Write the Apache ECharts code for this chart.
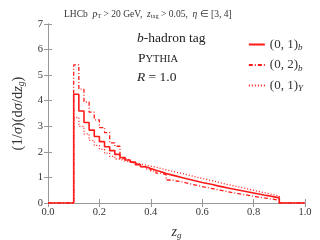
<!DOCTYPE html>
<html><head><meta charset="utf-8">
<script src="https://cdn.jsdelivr.net/npm/echarts@6/dist/echarts.min.js"></script>
<style>html,body{margin:0;padding:0;background:#fff}#c{width:320px;height:240px}</style>
</head><body><div id="c"></div>
<script>
// bin left edges (z_g), last entry is the right edge of the final bin
const binEdges = [0.10,0.12,0.14,0.16,0.18,0.20,0.22,0.24,0.26,0.28,0.30,0.32,0.34,0.36,0.38,0.40,0.42,0.44,0.46,0.48,0.50,0.52,0.54,0.56,0.58,0.60,0.62,0.64,0.66,0.68,0.70,0.72,0.74,0.76,0.78,0.80,0.82,0.84,0.86,0.88,0.90];
const series01b = [4.25,3.6,3.15,2.85,2.6,2.4,2.2,2.05,1.9,1.78,1.68,1.6,1.5,1.42,1.35,1.28,1.22,1.15,1.1,1.05,1.0,0.95,0.9,0.85,0.8,0.76,0.72,0.67,0.63,0.59,0.55,0.51,0.47,0.43,0.39,0.35,0.31,0.28,0.24,0.2];
const series02b = [5.4,4.45,3.95,3.55,3.25,2.95,2.75,2.35,2.22,1.74,1.68,1.6,1.52,1.42,1.33,1.25,1.17,1.1,0.9,0.86,0.83,0.78,0.73,0.69,0.64,0.6,0.56,0.52,0.48,0.44,0.4,0.37,0.33,0.3,0.26,0.23,0.2,0.17,0.14,0.11];
const series01U = [3.35,3.0,2.7,2.45,2.25,2.1,1.95,1.82,1.72,1.65,1.6,1.56,1.52,1.48,1.44,1.4,1.35,1.3,1.25,1.2,1.16,1.11,1.06,1.01,0.96,0.91,0.87,0.82,0.77,0.72,0.68,0.63,0.59,0.54,0.5,0.45,0.41,0.36,0.32,0.27];
const xTicks = ['0.0','0.2','0.4','0.6','0.8','1.0'];
const yTicks = ['0','1','2','3','4','5','6','7'];
const names = ['(0,1)b','(0,2)b','(0,1)Y'];

function histData(vals){
  const d = [[0,0]];
  for (let i=0;i<vals.length;i++) d.push([binEdges[i], vals[i]]);
  d.push([binEdges[binEdges.length-1], 0]);
  d.push([1.0, 0]);
  return d;
}
const FF = 'Liberation Serif';
const red = '#ff1a1a';
const gray = '#999999';
const txt = '#333';
const chart = echarts.init(document.getElementById('c'), null, {renderer:'canvas'});
const axCommon = {
  min:0, axisLine:{show:true,lineStyle:{color:gray,width:1}},
  axisTick:{show:true,inside:true,length:4,lineStyle:{color:gray}},
  splitLine:{show:false}
};
chart.setOption({
  animation:false,
  grid:{left:48,right:15,top:24,bottom:37,outerBoundsMode:'none',containLabel:false},
  title:{text:'LHCb  {i|p}{s|T} > 20 GeV,  {i|z}{s|tag} > 0.05,  {i|η} ∈ [3, 4]',left:59,top:4,
    textStyle:{fontFamily:FF,fontSize:9.5,fontWeight:'normal',color:txt,
      rich:{i:{fontFamily:FF,fontStyle:'italic',fontSize:9.5,color:txt},s:{fontFamily:FF,fontSize:6.5,color:txt,verticalAlign:'bottom',padding:[4,0,0,0]}}}},
  xAxis:[
    Object.assign({},axCommon,{type:'value',max:1,interval:0.2,position:'bottom',
      axisLabel:{color:txt,fontFamily:FF,fontSize:10.5,margin:4,formatter:(v)=>xTicks[Math.round(v/0.2)]},
      name:'{i|z}{s|g}',nameLocation:'middle',nameGap:21,
      nameTextStyle:{rich:{i:{fontFamily:FF,fontStyle:'italic',fontSize:14,color:txt},s:{fontFamily:FF,fontStyle:'italic',fontSize:9,color:txt,padding:[7,0,0,0]}}}}),
    Object.assign({},axCommon,{type:'value',max:1,interval:0.2,position:'top',axisLabel:{show:false}})
  ],
  yAxis:[
    Object.assign({},axCommon,{type:'value',max:7,interval:1,position:'left',
      axisLabel:{color:txt,fontFamily:FF,fontSize:10.5,margin:5,formatter:(v)=>yTicks[v]},
      name:'(1/{i|σ})(d{i|σ}/d{i|z}{s|g})',nameLocation:'middle',nameGap:21,nameRotate:90,
      nameTextStyle:{fontFamily:FF,fontSize:14.5,color:txt,rich:{i:{fontFamily:FF,fontStyle:'italic',fontSize:14.5,color:txt},s:{fontFamily:FF,fontStyle:'italic',fontSize:9.5,color:txt,padding:[7,0,0,0]}}}}),
    Object.assign({},axCommon,{type:'value',max:7,interval:1,position:'right',axisLabel:{show:false}})
  ],
  legend:{orient:'vertical',right:12,top:33,itemWidth:16,itemHeight:8,itemGap:6,
    itemStyle:{opacity:0},
    data:names.map(n=>({name:n})),
    formatter:(n)=>{
      if(n==='(0,1)b') return '(0, 1){s|b}';
      if(n==='(0,2)b') return '(0, 2){s|b}';
      return '(0, 1){s|Υ}';
    },
    textStyle:{fontFamily:FF,fontSize:13,color:txt,rich:{s:{fontFamily:FF,fontStyle:'italic',fontSize:9,color:txt,padding:[7,0,0,0]}}}},
  graphic:[
    {type:'text',left:137,top:31,style:{text:'{i|b}-hadron tag',font:'13.5px "Liberation Serif"',fill:'#222',rich:{i:{fontFamily:FF,fontStyle:'italic',fontSize:13.5,fill:'#222'}}}},
    {type:'text',left:138,top:51,style:{text:'{a|P}{b|YTHIA}',fill:'#222',rich:{a:{fontFamily:FF,fontSize:13.5,fill:'#222'},b:{fontFamily:FF,fontSize:10.5,fill:'#222',padding:[2,0,0,0]}}}},
    {type:'text',left:137,top:70,style:{text:'{i|R} = 1.0',font:'13.5px "Liberation Serif"',fill:'#222',rich:{i:{fontFamily:FF,fontStyle:'italic',fontSize:13.5,fill:'#222'}}}}
  ],
  series:[
    {name:names[0],type:'line',step:'end',symbol:'none',data:histData(series01b),lineStyle:{color:red,width:1.6,type:'solid'},itemStyle:{color:red},z:3},
    {name:names[1],type:'line',step:'end',symbol:'none',data:histData(series02b),lineStyle:{color:red,width:1.3,type:[4,2,1,2]},itemStyle:{color:red},z:2},
    {name:names[2],type:'line',step:'end',symbol:'none',data:histData(series01U),lineStyle:{color:red,width:1.3,type:[1,2]},itemStyle:{color:red},z:2}
  ]
});
</script></body></html>
